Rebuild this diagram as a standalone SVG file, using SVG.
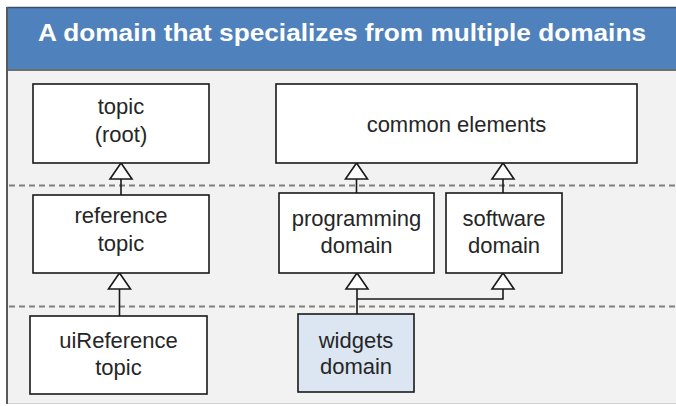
<svg xmlns="http://www.w3.org/2000/svg" width="676" height="406" viewBox="0 0 676 406">
<style>
.box{fill:#ffffff;stroke:#1a1a1a;stroke-width:1.6}
.hl{fill:#dce6f2}
.lbl{font-family:"Liberation Sans",Arial,sans-serif;font-size:22px;fill:#262626;text-anchor:middle}
.dash{stroke:#808080;stroke-width:2.2;stroke-dasharray:6 4;fill:none}
.con{stroke:#1a1a1a;stroke-width:1.6;fill:none}
.tri{fill:#ffffff;stroke:#1a1a1a;stroke-width:1.6}
</style>
<rect x="0" y="0" width="676" height="406" fill="#ffffff"/>
<rect x="7" y="70" width="669" height="333" fill="#f2f2f2"/>
<line x1="7" y1="403.5" x2="676" y2="403.5" stroke="#d0d0d0" stroke-width="1"/>
<rect x="7" y="7" width="669" height="63" fill="#4f81bd"/>
<line x1="7" y1="7.5" x2="676" y2="7.5" stroke="#3a4f66" stroke-width="1.5"/>
<line x1="7" y1="70" x2="676" y2="70" stroke="#6f6f6f" stroke-width="2"/>
<line x1="7" y1="7" x2="7" y2="404" stroke="#595959" stroke-width="2"/>
<text x="342" y="41" font-family="'Liberation Sans',Arial,sans-serif" font-size="23" font-weight="bold" fill="#ffffff" text-anchor="middle" textLength="608" lengthAdjust="spacingAndGlyphs">A domain that specializes from multiple domains</text>
<line class="dash" x1="9" y1="185.5" x2="676" y2="185.5"/>
<line class="dash" x1="9" y1="306.5" x2="676" y2="306.5"/>
<g id="connectors">
<line class="con" x1="121" y1="179" x2="121" y2="195"/>
<polygon class="tri" points="121,163 110,179 132,179"/>
<line class="con" x1="356.5" y1="179" x2="356.5" y2="193"/>
<polygon class="tri" points="356.5,163 345.5,179 367.5,179"/>
<line class="con" x1="503" y1="179" x2="503" y2="193"/>
<polygon class="tri" points="503,163 492,179 514,179"/>
<line class="con" x1="119.5" y1="289" x2="119.5" y2="316"/>
<polygon class="tri" points="119.5,273 108.5,289 130.5,289"/>
<polyline class="con" points="357,314 357,289"/>
<polyline class="con" points="357,299 503,299 503,289"/>
<polygon class="tri" points="357,273 346,289 368,289"/>
<polygon class="tri" points="503,273 492,289 514,289"/>
</g>
<g id="topic-root">
<rect class="box" x="33" y="84" width="176" height="79"/>
<text class="lbl" x="121" y="114">topic</text>
<text class="lbl" x="121" y="142">(root)</text>
</g>
<g id="common-elements">
<rect class="box" x="276" y="84" width="361" height="79"/>
<text class="lbl" x="456.5" y="132">common elements</text>
</g>
<g id="reference-topic">
<rect class="box" x="33" y="195" width="176" height="78"/>
<text class="lbl" x="121" y="223">reference</text>
<text class="lbl" x="121" y="251">topic</text>
</g>
<g id="programming-domain">
<rect class="box" x="279" y="193" width="155" height="80"/>
<text class="lbl" x="356.5" y="226">programming</text>
<text class="lbl" x="356.5" y="253">domain</text>
</g>
<g id="software-domain">
<rect class="box" x="446" y="193" width="116" height="80"/>
<text class="lbl" x="504" y="226">software</text>
<text class="lbl" x="504" y="253">domain</text>
</g>
<g id="uireference-topic">
<rect class="box" x="30" y="316" width="177" height="78"/>
<text class="lbl" x="118.5" y="348">uiReference</text>
<text class="lbl" x="118.5" y="375">topic</text>
</g>
<g id="widgets-domain">
<rect class="box hl" x="298" y="314" width="116" height="78"/>
<text class="lbl" x="356" y="348">widgets</text>
<text class="lbl" x="356" y="374">domain</text>
</g>
</svg>
